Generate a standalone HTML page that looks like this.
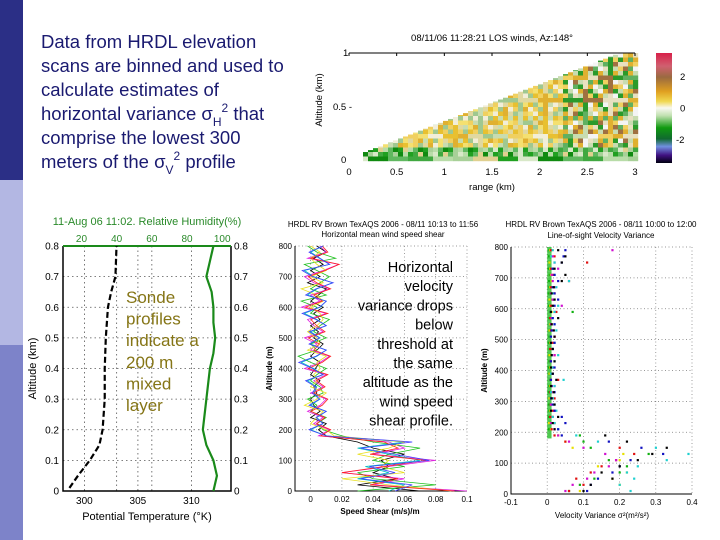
<!DOCTYPE html>
<html><head><meta charset="utf-8"><style>
html,body{margin:0;padding:0;background:#fff}
svg{display:block;font-family:"Liberation Sans",Arial,sans-serif}
</style></head><body>
<svg id="s" width="720" height="540" viewBox="0 0 720 540" xmlns="http://www.w3.org/2000/svg">
<rect x="0" y="0" width="720" height="540" fill="#fff"/>
<rect x="0" y="0" width="23" height="180" fill="#2b2f86"/>
<rect x="0" y="180" width="23" height="165" fill="#b3b7e3"/>
<rect x="0" y="345" width="23" height="195" fill="#7d83c9"/>
<g font-size="18.5" fill="#1a1a70">
<text x="41" y="48">Data from HRDL elevation</text>
<text x="41" y="72">scans are binned and used to</text>
<text x="41" y="96">calculate estimates of</text>
<text x="41" y="120">horizontal variance σ<tspan font-size="12" dy="6">H</tspan><tspan font-size="12" dy="-14">2</tspan><tspan dy="8"> that</tspan></text>
<text x="41" y="144">comprise the lowest 300</text>
<text x="41" y="168">meters of the σ<tspan font-size="12" dy="6">V</tspan><tspan font-size="12" dy="-14">2</tspan><tspan dy="8"> profile</tspan></text>
</g>
<g id="scan"></g>
<g id="rh"></g>
<g id="shear"></g>
<g id="var"></g>
</svg>
<script>
// ---- Sonde chart data ----
const sondeAlt = [0.01,0.05,0.1,0.15,0.2,0.3,0.4,0.5,0.6,0.65,0.7,0.8];
const sondeTemp = [298.6,299.4,300.5,301.4,301.7,301.9,301.9,302.0,302.2,302.5,302.9,303.0];
const rhAlt = [0,0.05,0.1,0.15,0.2,0.25,0.3,0.35,0.4,0.45,0.5,0.55,0.6,0.65,0.7,0.75,0.8];
const rhVal = [95,97,95,91,89,90,91,92,93,95,96,95,95,94,91,93,95];
const sondeYTicks = [0,0.1,0.2,0.3,0.4,0.5,0.6,0.7,0.8];
const tempTicks = [300,305,310];
const rhTicks = [20,40,60,80,100];
// ---- Shear chart data ----
const shearAlt = [0,20,40,60,80,100,120,140,160,180,200,220,240,260,280,300,320,340,360,380,400,420,440,460,480,500,520,540,560,580,600,620,640,660,680,700,720,740,760,780,800];
const shearA = [0.07,0.03,0.055,0.04,0.05,0.045,0.06,0.04,0.03,0.01,0.005,0.01,0.0,0.006,0.002,0.0,0.004,0.002,0.006,0.0,0.003,0.006,0.0,0.004,0.008,0.002,0.005,0.0,0.006,0.002,0.008,0.0,0.005,0.01,-0.002,0.006,0.0,0.008,0.002,0.01,0.004];
const shearB = [0.1,0.04,0.06,0.02,0.05,0.08,0.04,0.06,0.05,0.005,0.012,0.002,0.008,-0.002,0.006,0.01,0.0,0.008,0.002,0.01,-0.004,0.006,0.012,0.0,0.004,-0.004,0.008,0.002,-0.002,0.01,-0.006,0.006,0.0,0.012,0.002,-0.004,0.008,0.018,-0.002,0.01,0.006];
const shearC = [0.05,0.06,0.03,0.05,0.035,0.07,0.05,0.03,0.06,0.01,0.0,0.008,0.004,0.01,0.0,0.006,0.002,0.004,-0.002,0.008,0.002,-0.006,0.004,0.01,0.0,0.006,0.0,0.01,0.004,-0.004,0.006,0.01,-0.002,0.004,0.014,0.002,-0.004,0.012,0.006,0.0,0.008];
const shearD = [0.03,0.08,0.04,0.03,0.06,0.04,0.05,0.07,0.04,0.02,0.008,0.004,0.01,0.0,0.004,-0.002,0.008,0.006,0.0,0.004,0.01,0.0,-0.008,0.004,0.0,0.01,0.002,0.006,0.012,0.0,0.004,-0.006,0.01,0.0,0.006,0.012,0.004,-0.004,0.016,0.004,-0.002];
const shearE = [0.09,0.05,0.02,0.06,0.045,0.05,0.03,0.05,0.06,0.015,0.01,0.0,0.004,0.008,-0.004,0.004,0.01,0.0,0.004,0.002,0.006,0.004,0.01,-0.002,0.006,0.004,-0.002,0.004,0.008,0.006,0.0,0.008,0.004,-0.006,0.008,0.0,0.01,0.004,0.0,0.006,0.0];
const shearXTicks = [0,0.02,0.04,0.06,0.08,0.1];
const shearXLabels = ["0","0.02","0.04","0.06","0.08","0.1"];
const altTicks = [0,100,200,300,400,500,600,700,800];
// ---- Variance chart data ----
const varAlt = [10,30,50,70,90,110,130,150,170,190,210,230,250,270,290,310,330,350,370,390,410,430,450,470,490,510,530,550,570,590,610,630,650,670,690,710,730,750,770,790];
const varK = [0.1,0.12,0.18,0.15,0.2,0.25,0.29,0.33,0.22,0.16,0.02,0.015,0.03,0.01,0.02,0.012,0.018,0.01,0.025,0.015,0.01,0.02,0.012,0.015,0.01,0.02,0.018,0.012,0.03,0.01,0.015,0.02,0.012,0.018,0.04,0.05,0.02,0.04,0.05,0.03];
const varR = [0.06,0.1,0.08,0.12,0.15,0.19,0.24,0.2,0.05,0.02,0.012,0.02,0.008,0.015,0.01,0.02,0.008,0.012,0.03,0.01,0.015,0.01,0.02,0.008,0.015,0.02,0.01,0.012,0.008,0.025,0.01,0.015,0.02,0.01,0.06,0.015,0.01,0.11,0.02,0.01];
const varG = [0.06,0.09,0.13,0.2,0.22,0.17,0.28,0.12,0.1,0.09,0.005,0.008,0.004,0.006,0.005,0.007,0.004,0.006,0.008,0.005,0.004,0.006,0.005,0.007,0.004,0.006,0.005,0.008,0.006,0.07,0.005,0.006,0.004,0.006,0.005,0.007,0.004,0.006,0.005,0.006];
const varB = [0.11,0.12,0.14,0.18,0.2,0.23,0.32,0.26,0.17,0.04,0.03,0.05,0.04,0.02,0.015,0.01,0.02,0.012,0.01,0.015,0.02,0.01,0.012,0.015,0.02,0.01,0.012,0.02,0.015,0.01,0.02,0.03,0.02,0.015,0.03,0.02,0.015,0.04,0.045,0.05];
const varC = [0.23,0.2,0.24,0.22,0.25,0.33,0.39,0.3,0.14,0.08,0.03,0.02,0.015,0.025,0.02,0.015,0.01,0.02,0.045,0.01,0.015,0.02,0.03,0.015,0.02,0.01,0.025,0.02,0.015,0.02,0.03,0.02,0.015,0.025,0.06,0.02,0.015,0.02,0.01,0.015];
const varY = [0.09,0.2,0.18,0.22,0.14,0.2,0.21,0.07,0.05,0.03,0.01,0.005,0.015,0.008,0.01,0.006,0.012,0.008,0.01,0.006,0.008,0.01,0.006,0.012,0.008,0.01,0.006,0.008,0.01,0.012,0.008,0.006,0.01,0.008,0.012,0.01,0.008,0.006,0.01,0.008];
const varM = [0.05,0.07,0.11,0.13,0.17,0.19,0.16,0.1,0.06,0.03,0.02,0.01,0.015,0.02,0.01,0.015,0.012,0.02,0.01,0.015,0.012,0.01,0.02,0.015,0.01,0.02,0.015,0.01,0.012,0.02,0.04,0.015,0.01,0.02,0.015,0.012,0.03,0.02,0.015,0.18];
const varXTicks = [-0.1,0,0.1,0.2,0.3,0.4];
const varXLabels = ["-0.1","0","0.1","0.2","0.3","0.4"];
const scanXTicks = [0,0.5,1,1.5,2,2.5,3];
const scanXLabels = ["0","0.5","1","1.5","2","2.5","3"];
const cbTicks = [2,0,-2];

const NS="http://www.w3.org/2000/svg";
function mk(parent,tag,attrs,text){const e=document.createElementNS(NS,tag);for(const k in attrs)e.setAttribute(k,attrs[k]);if(text!==undefined)e.textContent=text;parent.appendChild(e);return e;}
function lin(d0,d1,r0,r1){return v=>r0+(v-d0)/(d1-d0)*(r1-r0);}

// ===== Sonde chart =====
(function(){
const g=document.getElementById('rh');
const L=63,R=231,T=246,B=491;
const x=lin(298,313.7,L,R), xr=lin(9.5,105,L,R), y=lin(0,0.8,B,T);
let t=mk(g,'text',{x:147,y:225,'font-size':11,fill:'#2a8a2a','text-anchor':'middle'},'11-Aug 06 11:02. Relative Humidity(%)');


sondeYTicks.forEach(v=>{
 if(v>0&&v<0.8){const l=mk(g,'line',{x1:L,x2:R,y1:y(v),y2:y(v),stroke:'#555','stroke-width':0.8,'stroke-dasharray':'1.5,3'});
 
 }
 const a=mk(g,'text',{x:L-4,y:y(v)+3.5,'font-size':10,'text-anchor':'end'},v===0?'0':String(v));
 
 
 const b=mk(g,'text',{x:R+3,y:y(v)+3.5,'font-size':10},v===0?'0':String(v));
 
 
});
tempTicks.forEach(v=>{
 const l=mk(g,'line',{x1:x(v),x2:x(v),y1:T,y2:B,stroke:'#555','stroke-width':0.8,'stroke-dasharray':'1.5,3'});
 
 
 const a=mk(g,'text',{x:x(v),y:B+13,'font-size':10,'text-anchor':'middle'},String(v));
 
 
});
rhTicks.forEach(v=>{
 if(v===40||v===60){const l=mk(g,'line',{x1:xr(v),x2:xr(v),y1:T,y2:B,stroke:'#555','stroke-width':0.8,'stroke-dasharray':'1.5,3'});
 
 }
 const a=mk(g,'text',{x:xr(v),y:T-4,'font-size':10,fill:'#2a8a2a','text-anchor':'middle'},String(v));
 
 
});
let ax=mk(g,'path',{d:`M${L},${T}V${B}H${R}V${T}`,fill:'none',stroke:'#000','stroke-width':1.5});


let tp=mk(g,'line',{x1:L,x2:R,y1:T,y2:T,stroke:'#1a8a1a','stroke-width':2});


let p1=mk(g,'polyline',{points:sondeAlt.map((a,i)=>x(sondeTemp[i])+','+y(a)).join(' '),fill:'none',stroke:'#000','stroke-width':2.2,'stroke-dasharray':'6,3'});


let p2=mk(g,'polyline',{points:rhAlt.map((a,i)=>xr(rhVal[i])+','+y(a)).join(' '),fill:'none',stroke:'#1a8a1a','stroke-width':2.2});


let yl=mk(g,'text',{x:0,y:0,'font-size':11,'text-anchor':'middle',transform:`translate(36,${(T+B)/2}) rotate(-90)`},'Altitude (km)');


let xl=mk(g,'text',{x:147,y:520,'font-size':11,'text-anchor':'middle'},'Potential Temperature (°K)');


const note=['Sonde','profiles','indicate a','200 m','mixed','layer'];
note.forEach((s,i)=>{const e=mk(g,'text',{x:126,y:303+i*21.6,'font-size':17,fill:'#857516'},s);
 
 });
})();

// ===== Shear chart =====
(function(){
const g=document.getElementById('shear');
const L=295,R=467,T=246,B=491;
const x=lin(-0.01,0.1,L,R), y=lin(0,800,B,T);
[['HRDL RV Brown TexAQS 2006 - 08/11 10:13 to 11:56',227],['Horizontal mean wind speed shear',237]].forEach(([s,yy])=>{
 const e=mk(g,'text',{x:383,y:yy,'font-size':8,'text-anchor':'middle'},s);
 
 });
altTicks.forEach(v=>{
 const l=mk(g,'line',{x1:L,x2:R,y1:y(v),y2:y(v),stroke:'#777','stroke-width':0.7,'stroke-dasharray':'1,2.5'});
 
 
 const a=mk(g,'text',{x:L-3,y:y(v)+3,'font-size':8,'text-anchor':'end'},String(v));
 
 
});
shearXTicks.forEach((v,i)=>{
 const l=mk(g,'line',{x1:x(v),x2:x(v),y1:T,y2:B,stroke:'#777','stroke-width':0.7,'stroke-dasharray':'1,2.5'});
 
 
 const a=mk(g,'text',{x:x(v),y:B+11,'font-size':8,'text-anchor':'middle'},shearXLabels[i]);
 
 
});
let ax=mk(g,'path',{d:`M${L},${T}V${B}H${R}`,fill:'none',stroke:'#000','stroke-width':1});


const ser=[[shearA,'#000'],[shearB,'#e020e0'],[shearC,'#00c0c0'],[shearD,'#20c020'],[shearE,'#e8e020']];
const extra=[[shearB.map(v=>v*0.9+0.002),'#ff2020'],[shearC.map(v=>v*1.1-0.001),'#4040ff']];
ser.concat(extra).forEach(([d,c])=>{
 const p=mk(g,'polyline',{points:shearAlt.map((a,i)=>x(d[i])+','+y(a)).join(' '),fill:'none',stroke:c,'stroke-width':0.8});
 
 
});
let yl=mk(g,'text',{x:0,y:0,'font-size':8,'text-anchor':'middle','font-weight':'bold',transform:`translate(272,${(T+B)/2}) rotate(-90)`},'Altitude (m)');


let xl=mk(g,'text',{x:380,y:514,'font-size':8,'text-anchor':'middle','font-weight':'bold'},'Speed Shear (m/s)/m');


const note=['Horizontal','velocity','variance drops','below','threshold at','the same','altitude as the','wind speed','shear profile.'];
note.forEach((s,i)=>{const e=mk(g,'text',{x:453,y:272+i*19.2,'font-size':14.5,'text-anchor':'end'},s);
 
 });
})();

// ===== Variance chart =====
(function(){
const g=document.getElementById('var');
const L=511,R=692,T=247,B=494;
const x=lin(-0.1,0.4,L,R), y=lin(0,800,B,T);
[['HRDL RV Brown TexAQS 2006 - 08/11 10:00 to 12:00',227],['Line-of-sight Velocity Variance',238]].forEach(([s,yy])=>{
 const e=mk(g,'text',{x:601,y:yy,'font-size':8,'text-anchor':'middle'},s);
 
 });
altTicks.forEach(v=>{
 const l=mk(g,'line',{x1:L,x2:R,y1:y(v),y2:y(v),stroke:'#777','stroke-width':0.7,'stroke-dasharray':'1,2.5'});
 
 
 const a=mk(g,'text',{x:L-3,y:y(v)+3,'font-size':8,'text-anchor':'end'},String(v));
 
 
});
varXTicks.forEach((v,i)=>{
 const l=mk(g,'line',{x1:x(v),x2:x(v),y1:T,y2:B,stroke:'#777','stroke-width':0.7,'stroke-dasharray':'1,2.5'});
 
 
 const a=mk(g,'text',{x:x(v),y:B+11,'font-size':8,'text-anchor':'middle'},varXLabels[i]);
 
 
});
let ax=mk(g,'path',{d:`M${L},${T}V${B}H${R}`,fill:'none',stroke:'#000','stroke-width':1});


// dense core band (altitudes above 190 m, near-zero variance)
varAlt.forEach((a,i)=>{ if(a>=190){
 const r=mk(g,'rect',{x:x(0.0),y:y(a+10),width:x(0.012)-x(0),height:y(a-10)-y(a+10),fill:'#30c030',opacity:0.85});
 
 }});
const ser=[[varG,'#10b010'],[varY,'#e8e000'],[varR,'#e01010'],[varM,'#d010d0'],[varC,'#20d0d0'],[varB,'#1010c0'],[varK,'#000']];
ser.forEach(([d,c])=>{
 varAlt.forEach((a,i)=>{
  const r=mk(g,'rect',{x:x(d[i])-1,y:y(a)-1,width:2.2,height:2.2,fill:c});
  
  
 });
});
let yl=mk(g,'text',{x:0,y:0,'font-size':8,'text-anchor':'middle','font-weight':'bold',transform:`translate(487,${(T+B)/2}) rotate(-90)`},'Altitude (m)');


let xl=mk(g,'text',{x:602,y:518,'font-size':8,'text-anchor':'middle'},'Velocity Variance σ²(m²/s²)');


})();

// ===== LOS scan image =====
(function(){
const g=document.getElementById('scan');
const L=349,R=635,T=53,B=162;
const x=lin(0,3,L,R);
let t=mk(g,'text',{x:492,y:41,'font-size':9.5,'text-anchor':'middle'},'08/11/06 11:28:21  LOS winds, Az:148°');


// texture palette (visual only)
const pal=['#e8c030','#f0d060','#e0d8a0','#f2eed8','#c8dcb0','#e0b030','#f4e070','#a0c890'];
const palTop=['#2a9a2a','#e0b030','#c8dcb0','#a07040','#f0d060','#60b060','#e8e0c0','#f4f4f4'];
const palLow=['#20a020','#60b860','#a8d098','#d8e8c8','#40a840','#e0d090','#108a10','#b8dca8'];
const topEdge=px=>{ if(px>=620) return T; return 153-(px-363)*(100/257); };
for(let cx=363,i=0;cx<R;cx+=5,i++){
 for(let cy=T,j=0;cy<159;cy+=4.5,j++){
  const tEdge=topEdge(cx+2.5);
  if(cy+4.5<tEdge) continue;
  const h=(i*37+j*61+(i*j)%13*7)%8;
  const frac=(cy-tEdge)/(159-tEdge);
  let c;
  if(cy>145 || (frac>0.8 && cx<440)) c=palLow[h];
  else if(cx>560) c=palTop[h];
  else c=pal[h];
  const r=mk(g,'rect',{x:cx,y:Math.max(cy,tEdge),width:5.2,height:Math.min(4.7,cy+4.7-Math.max(cy,tEdge)),fill:c});
  
  
 }
}
let ax=mk(g,'line',{x1:L,x2:R,y1:T,y2:T,stroke:'#000','stroke-width':1});


scanXTicks.forEach((v,i)=>{
 const a=mk(g,'text',{x:x(v),y:175,'font-size':9.5,'text-anchor':'middle'},scanXLabels[i]);
 
 
 const tk=mk(g,'line',{x1:x(v),x2:x(v),y1:T,y2:T+3,stroke:'#000'});
 
 
});
[['1',343,56],['0.5 -',333,110],['0',341,163]].forEach(([s,xx,yy])=>{
 const a=mk(g,'text',{x:xx,y:yy,'font-size':9.5},s);
 
 });
let xl=mk(g,'text',{x:492,y:190,'font-size':9.5,'text-anchor':'middle'},'range (km)');


let yl=mk(g,'text',{x:0,y:0,'font-size':9.5,'text-anchor':'middle',transform:'translate(322,100) rotate(-90)'},'Altitude (km)');


const defs=mk(g,'defs',{});
const lg=mk(defs,'linearGradient',{id:'cb',x1:0,y1:0,x2:0,y2:1});
[['0','#d8204a'],['0.12','#d06070'],['0.22','#9a6a40'],['0.35','#e0a020'],['0.44','#f0d850'],['0.5','#f8f8f0'],['0.57','#c0e0b0'],['0.68','#109a10'],['0.78','#106a30'],['0.85','#7090e0'],['0.93','#401080'],['1','#000010']].forEach(([o,c])=>mk(lg,'stop',{offset:o,'stop-color':c}));
let cb=mk(g,'rect',{x:656,y:53,width:16,height:110,fill:'url(#cb)'});


const cy=lin(-3.5,3.5,163,53);
cbTicks.forEach(v=>{
 const a=mk(g,'text',{x:v<0?676:680,y:cy(v)+3.5,'font-size':9.5},String(v));
 
 });
})();
</script>
</body></html>
